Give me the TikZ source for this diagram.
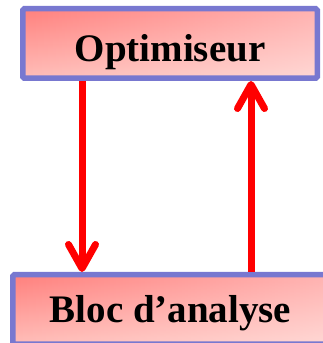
\documentclass[tikz,border=0pt]{standalone}
\usepackage{fontspec}
\setmainfont{Liberation Serif}
\usepackage{xcolor}
\usetikzlibrary{arrows.meta, fadings}

\definecolor{boxline}{RGB}{120,120,208}
\definecolor{boxtop}{RGB}{255,128,125}
\definecolor{boxbot}{RGB}{255,190,185}
\tikzfading[name=towhite, left color=transparent!100, right color=transparent!0]

\begin{document}
\begin{tikzpicture}[x=1pt,y=1pt,>={Straight Barb[length=24pt,width=27pt,round]}]
                \tikzset{block/.style={draw=boxline, line width=5.5pt, rounded corners=1.5pt, top color=boxtop, bottom color=boxbot,
                           path picture={\fill[white, opacity=0.4, path fading=towhite] (path picture bounding box.south west) rectangle (path picture bounding box.north east);},
                           font=\fontsize{39}{40}\selectfont\bfseries, text depth=0pt},
                         flow/.style={->, draw=red, line width=7pt}}

                \useasboundingbox (0,0) rectangle (323,343);

                \node[block, minimum width=294.5pt, minimum height=69.5pt, text height=37pt] (Opt) at (170,299.5) {Optimiseur};
                \node[block, minimum width=315.5pt, minimum height=69.5pt, text height=27pt] (Bloc) at (170.5,33.5) {Bloc d’analyse};

                \coordinate (L) at (82,0);
                \coordinate (R) at (251,0);

                \draw[flow] (Opt.south -| L) -- (Bloc.north -| L);
                \draw[flow] (Bloc.north -| R) -- (Opt.south -| R);
            \end{tikzpicture}
\end{document}
